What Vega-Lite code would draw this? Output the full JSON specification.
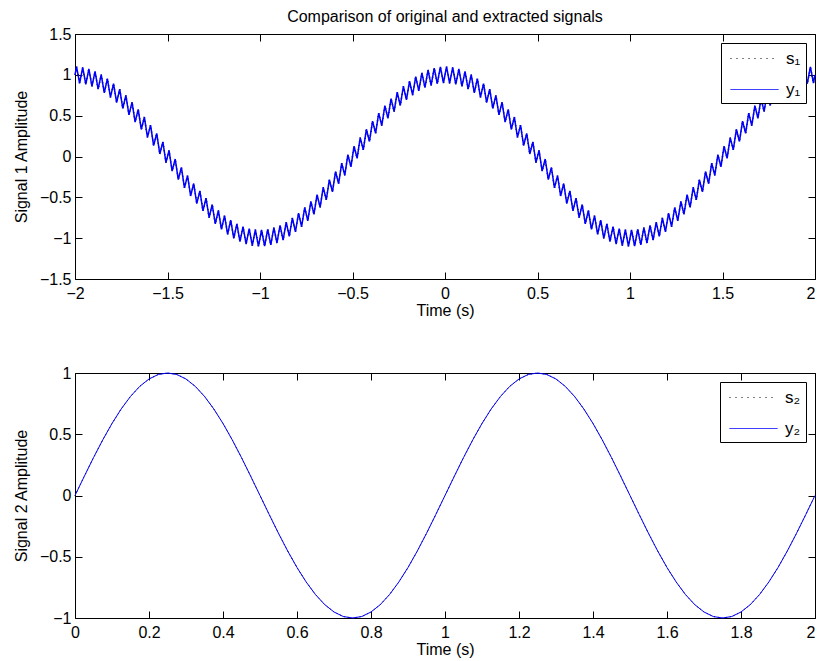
{
"$schema": "https://vega.github.io/schema/vega-lite/v6.json",
"padding": {"left": 12, "top": 8, "right": 0, "bottom": 2},
"spacing": 45,
"config": {
 "font": "Liberation Sans",
 "view": {"stroke": "#000000", "strokeWidth": 1},
 "axis": {"grid": false, "domain": false, "tickColor": "#000000", "tickSize": -7, "labelPadding": 11, "labelFontSize": 16, "labelColor": "#000000", "titleFontSize": 16, "titleFontWeight": "normal", "titleColor": "#000000", "labelFlush": false, "labelOverlap": false, "format": "~g"},
 "axisY": {"titlePadding": 10},
 "axisX": {"titlePadding": 1, "labelPadding": 13},
 "legend": {"orient": "top-right", "offset": 9, "strokeColor": "#000000", "fillColor": "#ffffff", "padding": 5, "labelFontSize": 17, "labelColor": "#000000", "symbolSize": 400, "symbolStrokeWidth": 1, "symbolOffset": 18, "labelOffset": 21, "rowPadding": 12},
 "title": {"fontSize": 16, "fontWeight": "normal", "color": "#000000"}
},
"resolve": {"scale": {"color": "independent"}},
"vconcat": [
{
 "width": 740, "height": 245,
 "title": {"text": "Comparison of original and extracted signals", "anchor": "middle", "offset": 1},
 "data": {"values": [
{"t":-2,"v":1},
{"t":-1.99167,"v":1.1},{"t":-1.975,"v":0.897},{"t":-1.95833,"v":1.091},{"t":-1.94167,"v":0.883},{"t":-1.925,"v":1.072},{"t":-1.90833,"v":0.859},
{"t":-1.89167,"v":1.043},{"t":-1.875,"v":0.824},{"t":-1.85833,"v":1.003},{"t":-1.84167,"v":0.779},{"t":-1.825,"v":0.953},{"t":-1.80833,"v":0.724},
{"t":-1.79167,"v":0.893},{"t":-1.775,"v":0.66},{"t":-1.75833,"v":0.825},{"t":-1.74167,"v":0.588},{"t":-1.725,"v":0.749},{"t":-1.70833,"v":0.509},
{"t":-1.69167,"v":0.666},{"t":-1.675,"v":0.422},{"t":-1.65833,"v":0.577},{"t":-1.64167,"v":0.331},{"t":-1.625,"v":0.483},{"t":-1.60833,"v":0.234},
{"t":-1.59167,"v":0.384},{"t":-1.575,"v":0.133},{"t":-1.55833,"v":0.282},{"t":-1.54167,"v":0.031},{"t":-1.525,"v":0.178},{"t":-1.50833,"v":-0.074},
{"t":-1.49167,"v":0.074},{"t":-1.475,"v":-0.178},{"t":-1.45833,"v":-0.031},{"t":-1.44167,"v":-0.282},{"t":-1.425,"v":-0.133},{"t":-1.40833,"v":-0.384},
{"t":-1.39167,"v":-0.234},{"t":-1.375,"v":-0.483},{"t":-1.35833,"v":-0.331},{"t":-1.34167,"v":-0.577},{"t":-1.325,"v":-0.422},{"t":-1.30833,"v":-0.666},
{"t":-1.29167,"v":-0.509},{"t":-1.275,"v":-0.749},{"t":-1.25833,"v":-0.588},{"t":-1.24167,"v":-0.825},{"t":-1.225,"v":-0.66},{"t":-1.20833,"v":-0.893},
{"t":-1.19167,"v":-0.724},{"t":-1.175,"v":-0.953},{"t":-1.15833,"v":-0.779},{"t":-1.14167,"v":-1.003},{"t":-1.125,"v":-0.824},{"t":-1.10833,"v":-1.043},
{"t":-1.09167,"v":-0.859},{"t":-1.075,"v":-1.072},{"t":-1.05833,"v":-0.883},{"t":-1.04167,"v":-1.091},{"t":-1.025,"v":-0.897},{"t":-1.00833,"v":-1.1},
{"t":-0.99167,"v":-0.9},{"t":-0.975,"v":-1.097},{"t":-0.95833,"v":-0.891},{"t":-0.94167,"v":-1.083},{"t":-0.925,"v":-0.872},{"t":-0.90833,"v":-1.059},
{"t":-0.89167,"v":-0.843},{"t":-0.875,"v":-1.024},{"t":-0.85833,"v":-0.803},{"t":-0.84167,"v":-0.979},{"t":-0.825,"v":-0.753},{"t":-0.80833,"v":-0.924},
{"t":-0.79167,"v":-0.693},{"t":-0.775,"v":-0.86},{"t":-0.75833,"v":-0.625},{"t":-0.74167,"v":-0.788},{"t":-0.725,"v":-0.549},{"t":-0.70833,"v":-0.709},
{"t":-0.69167,"v":-0.466},{"t":-0.675,"v":-0.622},{"t":-0.65833,"v":-0.377},{"t":-0.64167,"v":-0.531},{"t":-0.625,"v":-0.283},{"t":-0.60833,"v":-0.434},
{"t":-0.59167,"v":-0.184},{"t":-0.575,"v":-0.333},{"t":-0.55833,"v":-0.082},{"t":-0.54167,"v":-0.231},{"t":-0.525,"v":0.022},{"t":-0.50833,"v":-0.126},
{"t":-0.49167,"v":0.126},{"t":-0.475,"v":-0.022},{"t":-0.45833,"v":0.231},{"t":-0.44167,"v":0.082},{"t":-0.425,"v":0.333},{"t":-0.40833,"v":0.184},
{"t":-0.39167,"v":0.434},{"t":-0.375,"v":0.283},{"t":-0.35833,"v":0.531},{"t":-0.34167,"v":0.377},{"t":-0.325,"v":0.622},{"t":-0.30833,"v":0.466},
{"t":-0.29167,"v":0.709},{"t":-0.275,"v":0.549},{"t":-0.25833,"v":0.788},{"t":-0.24167,"v":0.625},{"t":-0.225,"v":0.86},{"t":-0.20833,"v":0.693},
{"t":-0.19167,"v":0.924},{"t":-0.175,"v":0.753},{"t":-0.15833,"v":0.979},{"t":-0.14167,"v":0.803},{"t":-0.125,"v":1.024},{"t":-0.10833,"v":0.843},
{"t":-0.09167,"v":1.059},{"t":-0.075,"v":0.872},{"t":-0.05833,"v":1.083},{"t":-0.04167,"v":0.891},{"t":-0.025,"v":1.097},{"t":-0.00833,"v":0.9},
{"t":0.00833,"v":1.1},{"t":0.025,"v":0.897},{"t":0.04167,"v":1.091},{"t":0.05833,"v":0.883},{"t":0.075,"v":1.072},{"t":0.09167,"v":0.859},
{"t":0.10833,"v":1.043},{"t":0.125,"v":0.824},{"t":0.14167,"v":1.003},{"t":0.15833,"v":0.779},{"t":0.175,"v":0.953},{"t":0.19167,"v":0.724},
{"t":0.20833,"v":0.893},{"t":0.225,"v":0.66},{"t":0.24167,"v":0.825},{"t":0.25833,"v":0.588},{"t":0.275,"v":0.749},{"t":0.29167,"v":0.509},
{"t":0.30833,"v":0.666},{"t":0.325,"v":0.422},{"t":0.34167,"v":0.577},{"t":0.35833,"v":0.331},{"t":0.375,"v":0.483},{"t":0.39167,"v":0.234},
{"t":0.40833,"v":0.384},{"t":0.425,"v":0.133},{"t":0.44167,"v":0.282},{"t":0.45833,"v":0.031},{"t":0.475,"v":0.178},{"t":0.49167,"v":-0.074},
{"t":0.50833,"v":0.074},{"t":0.525,"v":-0.178},{"t":0.54167,"v":-0.031},{"t":0.55833,"v":-0.282},{"t":0.575,"v":-0.133},{"t":0.59167,"v":-0.384},
{"t":0.60833,"v":-0.234},{"t":0.625,"v":-0.483},{"t":0.64167,"v":-0.331},{"t":0.65833,"v":-0.577},{"t":0.675,"v":-0.422},{"t":0.69167,"v":-0.666},
{"t":0.70833,"v":-0.509},{"t":0.725,"v":-0.749},{"t":0.74167,"v":-0.588},{"t":0.75833,"v":-0.825},{"t":0.775,"v":-0.66},{"t":0.79167,"v":-0.893},
{"t":0.80833,"v":-0.724},{"t":0.825,"v":-0.953},{"t":0.84167,"v":-0.779},{"t":0.85833,"v":-1.003},{"t":0.875,"v":-0.824},{"t":0.89167,"v":-1.043},
{"t":0.90833,"v":-0.859},{"t":0.925,"v":-1.072},{"t":0.94167,"v":-0.883},{"t":0.95833,"v":-1.091},{"t":0.975,"v":-0.897},{"t":0.99167,"v":-1.1},
{"t":1.00833,"v":-0.9},{"t":1.025,"v":-1.097},{"t":1.04167,"v":-0.891},{"t":1.05833,"v":-1.083},{"t":1.075,"v":-0.872},{"t":1.09167,"v":-1.059},
{"t":1.10833,"v":-0.843},{"t":1.125,"v":-1.024},{"t":1.14167,"v":-0.803},{"t":1.15833,"v":-0.979},{"t":1.175,"v":-0.753},{"t":1.19167,"v":-0.924},
{"t":1.20833,"v":-0.693},{"t":1.225,"v":-0.86},{"t":1.24167,"v":-0.625},{"t":1.25833,"v":-0.788},{"t":1.275,"v":-0.549},{"t":1.29167,"v":-0.709},
{"t":1.30833,"v":-0.466},{"t":1.325,"v":-0.622},{"t":1.34167,"v":-0.377},{"t":1.35833,"v":-0.531},{"t":1.375,"v":-0.283},{"t":1.39167,"v":-0.434},
{"t":1.40833,"v":-0.184},{"t":1.425,"v":-0.333},{"t":1.44167,"v":-0.082},{"t":1.45833,"v":-0.231},{"t":1.475,"v":0.022},{"t":1.49167,"v":-0.126},
{"t":1.50833,"v":0.126},{"t":1.525,"v":-0.022},{"t":1.54167,"v":0.231},{"t":1.55833,"v":0.082},{"t":1.575,"v":0.333},{"t":1.59167,"v":0.184},
{"t":1.60833,"v":0.434},{"t":1.625,"v":0.283},{"t":1.64167,"v":0.531},{"t":1.65833,"v":0.377},{"t":1.675,"v":0.622},{"t":1.69167,"v":0.466},
{"t":1.70833,"v":0.709},{"t":1.725,"v":0.549},{"t":1.74167,"v":0.788},{"t":1.75833,"v":0.625},{"t":1.775,"v":0.86},{"t":1.79167,"v":0.693},
{"t":1.80833,"v":0.924},{"t":1.825,"v":0.753},{"t":1.84167,"v":0.979},{"t":1.85833,"v":0.803},{"t":1.875,"v":1.024},{"t":1.89167,"v":0.843},
{"t":1.90833,"v":1.059},{"t":1.925,"v":0.872},{"t":1.94167,"v":1.083},{"t":1.95833,"v":0.891},{"t":1.975,"v":1.097},{"t":1.99167,"v":0.9},
{"t":2,"v":1}
 ]},
 "resolve": {"axis": {"x": "independent", "y": "independent"}},
 "layer": [
  {
   "mark": {"type": "line", "strokeWidth": 1.5, "strokeDash": [1, 3]},
   "encoding": {
    "x": {"field": "t", "type": "quantitative", "scale": {"domain": [-2, 2], "nice": false, "zero": false}, "axis": {"orient": "top", "labels": false, "title": null, "values": [-2,-1.5,-1,-0.5,0,0.5,1,1.5,2]}},
    "y": {"field": "v", "type": "quantitative", "scale": {"domain": [-1.5, 1.5], "nice": false, "zero": false}, "axis": {"orient": "right", "labels": false, "title": null, "values": [-1.5,-1,-0.5,0,0.5,1,1.5]}},
    "color": {"datum": "s1", "type": "nominal", "scale": {"domain": ["s1", "y1"], "range": ["#000000", "#0000ff"]}, "legend": {"title": null, "symbolType": "M-2.4,0H2.4", "labelExpr": "datum.value == 's1' ? 's₁' : 'y₁'", "encode": {"symbols": {"update": {"strokeDash": {"signal": "datum.value == 's1' ? [1,5] : [1,0]"}}}}}}
   }
  },
  {
   "mark": {"type": "line", "strokeWidth": 1.5},
   "encoding": {
    "x": {"field": "t", "type": "quantitative", "axis": {"orient": "bottom", "title": "Time (s)", "values": [-2,-1.5,-1,-0.5,0,0.5,1,1.5,2], "labelAlign": {"condition": {"test": "datum.value == 2", "value": "right"}, "value": "center"}}},
    "y": {"field": "v", "type": "quantitative", "axis": {"orient": "left", "title": "Signal 1 Amplitude", "values": [-1.5,-1,-0.5,0,0.5,1,1.5]}},
    "color": {"datum": "y1", "type": "nominal"}
   }
  }
 ]
},
{
 "width": 740, "height": 245,
 "data": {"values": [
{"t":0,"v":0},{"t":0.025,"v":0.156},{"t":0.05,"v":0.309},{"t":0.075,"v":0.454},{"t":0.1,"v":0.588},{"t":0.125,"v":0.707},{"t":0.15,"v":0.809},{"t":0.175,"v":0.891},{"t":0.2,"v":0.951},{"t":0.225,"v":0.988},
{"t":0.25,"v":1},{"t":0.275,"v":0.988},{"t":0.3,"v":0.951},{"t":0.325,"v":0.891},{"t":0.35,"v":0.809},{"t":0.375,"v":0.707},{"t":0.4,"v":0.588},{"t":0.425,"v":0.454},{"t":0.45,"v":0.309},{"t":0.475,"v":0.156},
{"t":0.5,"v":0},{"t":0.525,"v":-0.156},{"t":0.55,"v":-0.309},{"t":0.575,"v":-0.454},{"t":0.6,"v":-0.588},{"t":0.625,"v":-0.707},{"t":0.65,"v":-0.809},{"t":0.675,"v":-0.891},{"t":0.7,"v":-0.951},{"t":0.725,"v":-0.988},
{"t":0.75,"v":-1},{"t":0.775,"v":-0.988},{"t":0.8,"v":-0.951},{"t":0.825,"v":-0.891},{"t":0.85,"v":-0.809},{"t":0.875,"v":-0.707},{"t":0.9,"v":-0.588},{"t":0.925,"v":-0.454},{"t":0.95,"v":-0.309},{"t":0.975,"v":-0.156},
{"t":1,"v":0},{"t":1.025,"v":0.156},{"t":1.05,"v":0.309},{"t":1.075,"v":0.454},{"t":1.1,"v":0.588},{"t":1.125,"v":0.707},{"t":1.15,"v":0.809},{"t":1.175,"v":0.891},{"t":1.2,"v":0.951},{"t":1.225,"v":0.988},
{"t":1.25,"v":1},{"t":1.275,"v":0.988},{"t":1.3,"v":0.951},{"t":1.325,"v":0.891},{"t":1.35,"v":0.809},{"t":1.375,"v":0.707},{"t":1.4,"v":0.588},{"t":1.425,"v":0.454},{"t":1.45,"v":0.309},{"t":1.475,"v":0.156},
{"t":1.5,"v":0},{"t":1.525,"v":-0.156},{"t":1.55,"v":-0.309},{"t":1.575,"v":-0.454},{"t":1.6,"v":-0.588},{"t":1.625,"v":-0.707},{"t":1.65,"v":-0.809},{"t":1.675,"v":-0.891},{"t":1.7,"v":-0.951},{"t":1.725,"v":-0.988},
{"t":1.75,"v":-1},{"t":1.775,"v":-0.988},{"t":1.8,"v":-0.951},{"t":1.825,"v":-0.891},{"t":1.85,"v":-0.809},{"t":1.875,"v":-0.707},{"t":1.9,"v":-0.588},{"t":1.925,"v":-0.454},{"t":1.95,"v":-0.309},{"t":1.975,"v":-0.156},
{"t":2,"v":0}
 ]},
 "resolve": {"axis": {"x": "independent", "y": "independent"}},
 "layer": [
  {
   "mark": {"type": "line", "strokeWidth": 1, "strokeDash": [1, 3]},
   "encoding": {
    "x": {"field": "t", "type": "quantitative", "scale": {"domain": [0, 2], "nice": false, "zero": false}, "axis": {"orient": "top", "labels": false, "title": null, "values": [0,0.2,0.4,0.6,0.8,1,1.2,1.4,1.6,1.8,2]}},
    "y": {"field": "v", "type": "quantitative", "scale": {"domain": [-1, 1], "nice": false, "zero": false}, "axis": {"orient": "right", "labels": false, "title": null, "values": [-1,-0.5,0,0.5,1]}},
    "color": {"datum": "s2", "type": "nominal", "scale": {"domain": ["s2", "y2"], "range": ["#000000", "#0000ff"]}, "legend": {"title": null, "symbolType": "M-2.4,0H2.4", "labelExpr": "datum.value == 's2' ? 's₂' : 'y₂'", "encode": {"symbols": {"update": {"strokeDash": {"signal": "datum.value == 's2' ? [1,5] : [1,0]"}}}}}}
   }
  },
  {
   "mark": {"type": "line", "strokeWidth": 1},
   "encoding": {
    "x": {"field": "t", "type": "quantitative", "axis": {"orient": "bottom", "title": "Time (s)", "values": [0,0.2,0.4,0.6,0.8,1,1.2,1.4,1.6,1.8,2], "labelAlign": {"condition": {"test": "datum.value == 2", "value": "right"}, "value": "center"}}},
    "y": {"field": "v", "type": "quantitative", "axis": {"orient": "left", "title": "Signal 2 Amplitude", "values": [-1,-0.5,0,0.5,1]}},
    "color": {"datum": "y2", "type": "nominal"}
   }
  }
 ]
}
]
}
